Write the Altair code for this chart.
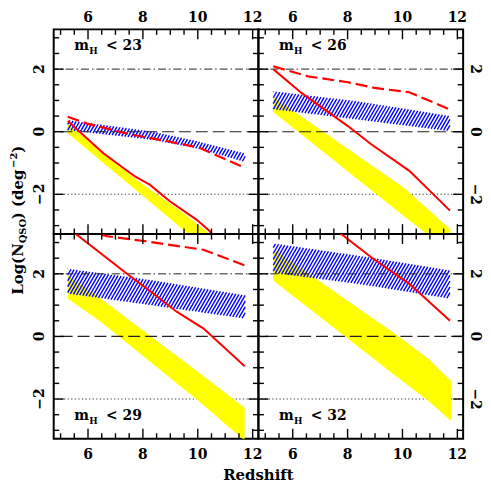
import math
import numpy as np
import pandas as pd
import altair as alt

# ---------------- data ----------------
PANELS = ["23", "26", "29", "32"]

yellow_x = {
    "23": [5.26, 7.71, 9.46, 10.37],
    "26": [5.29, 6.08, 10.07, 11.75],
    "29": [5.26, 6.45, 10.0, 11.71],
    "32": [5.29, 7.36, 9.78, 10.98, 11.77],
}
yellow_top = {
    "23": [0.26, -1.50, -2.59, -3.22],
    "26": [1.11, 0.63, -1.80, -3.12],
    "29": [1.95, 1.22, -1.13, -2.28],
    "32": [2.79, 1.53, 0.05, -0.74, -1.43],
}
yellow_bottom = {
    "23": [-0.05, -1.84, -3.12, -3.78],
    "26": [0.63, 0.08, -2.71, -3.85],
    "29": [1.21, 0.48, -2.04, -3.33],
    "32": [1.79, 0.37, -1.28, -2.09, -2.70],
}
blue_x = {
    "23": [5.26, 8.37, 10.06, 11.73],
    "26": [5.29, 8.37, 11.73],
    "29": [5.26, 8.37, 11.73],
    "32": [5.29, 8.37, 11.73],
}
blue_top = {
    "23": [0.37, 0.0, -0.32, -0.70],
    "26": [1.29, 0.97, 0.50],
    "29": [2.16, 1.79, 1.31],
    "32": [2.97, 2.58, 2.11],
}
blue_bottom = {
    "23": [0.05, -0.26, -0.55, -0.97],
    "26": [0.72, 0.39, 0.02],
    "29": [1.37, 0.99, 0.57],
    "32": [2.03, 1.68, 1.21],
}
solid_x = {
    "23": [5.26, 6.56, 7.71, 8.25, 8.98, 9.94, 10.43, 10.6],
    "26": [5.29, 6.32, 8.01, 8.86, 10.25, 11.73],
    "29": [5.3, 7.42, 8.26, 9.23, 10.2, 11.71],
    "32": [5.3, 7.8, 8.86, 10.25, 11.73],
}
solid_y = {
    "23": [0.34, -0.69, -1.43, -1.69, -2.22, -2.80, -3.17, -3.4],
    "26": [2.0, 1.24, 0.18, -0.40, -1.25, -2.52],
    "29": [3.45, 2.0, 1.45, 0.79, 0.26, -0.95],
    "32": [4.95, 3.25, 2.53, 1.68, 0.50],
}
dashed_x = {
    "23": [5.26, 5.96, 7.53, 8.98, 10.06, 11.73],
    "26": [5.29, 6.56, 8.01, 8.98, 10.25, 11.73],
    "29": [5.3, 6.7, 8.1, 10.2, 11.72],
}
dashed_y = {
    "23": [0.48, 0.26, -0.08, -0.32, -0.51, -1.16],
    "26": [2.09, 1.77, 1.58, 1.40, 1.26, 0.71],
    "29": [3.55, 3.2, 3.04, 2.77, 2.27],
}
ref_dashdot = [2]
ref_dashed = [0]
ref_dotted = [-2]

x_major_ticks = [6, 8, 10, 12]
x_minor_ticks = [5.0, 5.5, 6.5, 7.0, 7.5, 8.5, 9.0, 9.5, 10.5, 11.0, 11.5]
y_major_ticks = [-2, 0, 2]
y_minor_ticks = [-3.0, -2.5, -1.5, -1.0, -0.5, 0.5, 1.0, 1.5, 2.5, 3.0]

X_TITLE = "Redshift"

# ---------------- layout ----------------
XMIN, XMAX = 4.75, 12.21
YMIN, YMAX = -3.27, 3.27
W = 206
H = 206
FONT = "DejaVu Serif"
MAJ, MIN = 10, 5.5

xs = alt.Scale(domain=[XMIN, XMAX], nice=False, zero=False)
ys = alt.Scale(domain=[YMIN, YMAX], nice=False, zero=False)


def band_hatch(bx, top, bot, spacing_px=3.4, angle_deg=60):
    sx = W / (XMAX - XMIN)
    sy = H / (YMAX - YMIN)
    k = math.tan(math.radians(angle_deg)) * sx / sy
    xg = np.linspace(bx[0], bx[-1], 800)
    yt = np.interp(xg, bx, top)
    yb = np.interp(xg, bx, bot)
    dc = k * spacing_px / sx
    cmin = (yb - k * xg).min() - dc
    cmax = (yt - k * xg).max() + dc
    rows = []
    for c in np.arange(cmin, cmax, dc):
        fb = k * xg + c - yb
        ft = k * xg + c - yt
        xa = float(np.interp(0, fb, xg))
        xb = float(np.interp(0, ft, xg))
        if xb - xa > 1e-4:
            rows.append(dict(x=xa, y=k * xa + c, x2=xb, y2=k * xb + c))
    return pd.DataFrame(rows)


def lab(v):
    return str(int(v)).replace("-", "\u2212")


def tick_layers():
    out = []
    xmaj = pd.DataFrame({"t": x_major_ticks})
    xmin_ = pd.DataFrame({"t": x_minor_ticks})
    ymaj = pd.DataFrame({"t": y_major_ticks})
    ymin_ = pd.DataFrame({"t": y_minor_ticks})
    for df, L in ((xmaj, MAJ), (xmin_, MIN)):
        base = alt.Chart(df).mark_rule(color="black", strokeWidth=1.4)
        out.append(base.encode(x=alt.X("t:Q", scale=xs, axis=None), y=alt.value(0), y2=alt.value(L)))
        out.append(base.encode(x=alt.X("t:Q", scale=xs, axis=None), y=alt.value(H), y2=alt.value(H - L)))
    for df, L in ((ymaj, MAJ), (ymin_, MIN)):
        base = alt.Chart(df).mark_rule(color="black", strokeWidth=1.4)
        out.append(base.encode(y=alt.Y("t:Q", scale=ys, axis=None), x=alt.value(0), x2=alt.value(L)))
        out.append(base.encode(y=alt.Y("t:Q", scale=ys, axis=None), x=alt.value(W), x2=alt.value(W - L)))
    return out


def label_layers(top, left):
    out = []
    xl = pd.DataFrame({"t": x_major_ticks, "s": [lab(v) for v in x_major_ticks]})
    yl = pd.DataFrame({"t": y_major_ticks, "s": [lab(v) for v in y_major_ticks]})
    common = dict(font=FONT, fontSize=14, fontWeight="bold", color="black")
    if top:
        out.append(alt.Chart(xl).mark_text(align="center", baseline="alphabetic", **common).encode(
            x=alt.X("t:Q", scale=xs, axis=None), y=alt.value(-7), text="s:N"))
    else:
        out.append(alt.Chart(xl).mark_text(align="center", baseline="top", **common).encode(
            x=alt.X("t:Q", scale=xs, axis=None), y=alt.value(H + 9), text="s:N"))
    if left:
        out.append(alt.Chart(yl).mark_text(align="center", baseline="alphabetic", angle=270, **common).encode(
            y=alt.Y("t:Q", scale=ys, axis=None), x=alt.value(-10), text="s:N"))
    else:
        out.append(alt.Chart(yl).mark_text(align="center", baseline="alphabetic", angle=90, **common).encode(
            y=alt.Y("t:Q", scale=ys, axis=None), x=alt.value(W + 8), text="s:N"))
    return out


def panel(key, col, row):
    top = row == 0
    left = col == 0
    layers = []

    layers.append(alt.Chart(pd.DataFrame({"y": ref_dotted})).mark_rule(
        color="#333333", strokeWidth=1.1, strokeDash=[1.2, 2.4]).encode(
        y=alt.Y("y:Q", scale=ys, axis=None)))

    ydf = pd.DataFrame({"x": yellow_x[key], "top": yellow_top[key], "bottom": yellow_bottom[key]})
    layers.append(alt.Chart(ydf).mark_area(color="#ffff00", opacity=1, clip=True).encode(
        x=alt.X("x:Q", scale=xs, axis=None),
        y=alt.Y("top:Q", scale=ys, axis=None), y2="bottom:Q"))

    hdf = band_hatch(blue_x[key], blue_top[key], blue_bottom[key])
    layers.append(alt.Chart(hdf).mark_rule(color="#0000ff", strokeWidth=1.4, clip=True).encode(
        x=alt.X("x:Q", scale=xs, axis=None), y=alt.Y("y:Q", scale=ys, axis=None),
        x2="x2:Q", y2="y2:Q"))

    layers.append(alt.Chart(pd.DataFrame({"y": ref_dashdot})).mark_rule(
        color="#222222", strokeWidth=1.0, strokeDash=[8, 3, 1.5, 3]).encode(
        y=alt.Y("y:Q", scale=ys, axis=None)))
    layers.append(alt.Chart(pd.DataFrame({"y": ref_dashed})).mark_rule(
        color="#222222", strokeWidth=1.2, strokeDash=[12, 5]).encode(
        y=alt.Y("y:Q", scale=ys, axis=None)))

    if key in dashed_x:
        ddf = pd.DataFrame({"x": dashed_x[key], "y": dashed_y[key]})
        layers.append(alt.Chart(ddf).mark_line(color="#ff0000", strokeWidth=2.2,
                                               strokeDash=[12, 5], clip=True).encode(
            x=alt.X("x:Q", scale=xs, axis=None), y=alt.Y("y:Q", scale=ys, axis=None)))
    sdf = pd.DataFrame({"x": solid_x[key], "y": solid_y[key]})
    layers.append(alt.Chart(sdf).mark_line(color="#ff0000", strokeWidth=2.0, clip=True).encode(
        x=alt.X("x:Q", scale=xs, axis=None), y=alt.Y("y:Q", scale=ys, axis=None)))

    layers += tick_layers()
    layers += label_layers(top, left)

    # panel label  m_H < NN
    ly = 2.61 if top else -2.67
    ldf = pd.DataFrame({"x": [5.5], "y": [ly], "n": ["<  " + key]})
    lb = alt.Chart(ldf)
    enc = dict(x=alt.X("x:Q", scale=xs, axis=None), y=alt.Y("y:Q", scale=ys, axis=None))
    layers.append(lb.mark_text(text="m", font=FONT, fontSize=14, fontWeight="bold",
                               align="left", baseline="alphabetic", color="black").encode(**enc))
    layers.append(lb.mark_text(text="H", font=FONT, fontSize=9, fontWeight="bold",
                               align="left", baseline="alphabetic", color="black",
                               dx=15, dy=4).encode(**enc))
    layers.append(lb.mark_text(font=FONT, fontSize=14, fontWeight="bold",
                               align="left", baseline="alphabetic", color="black",
                               dx=32).encode(text="n:N", **enc))

    one = pd.DataFrame({"a": [0]})
    if top and left:
        # y-axis title pieces: Log(N_QSO) (deg^-2), reading upward
        bx = -31
        pieces = [("Log(N", 15, bx, 267), ("QSO", 10, bx + 3, 215.3),
                  (") (deg", 15, bx, 191.1), ("\u22122", 10, bx - 6, 139.4),
                  (")", 15, bx, 124.1)]
        for txt, size, px, py in pieces:
            layers.append(alt.Chart(one).mark_text(
                text=txt, font=FONT, fontSize=size, fontWeight="bold", angle=270,
                align="left", baseline="alphabetic", color="black").encode(
                x=alt.value(px), y=alt.value(py)))
        # invisible anchor that fixes the outer bounds of the figure
        layers.append(alt.Chart(one).mark_rule(opacity=0, strokeWidth=0.01).encode(
            x=alt.value(-45), y=alt.value(-19), y2=alt.value(-18)))
    if (not top) and left:
        layers.append(alt.Chart(one).mark_text(
            text=X_TITLE, font=FONT, fontSize=15, fontWeight="bold", align="center",
            baseline="alphabetic", color="black").encode(x=alt.value(W), y=alt.value(H + 41)))

    return alt.layer(*layers).properties(width=W, height=H)


charts = [panel(k, i % 2, i // 2) for i, k in enumerate(PANELS)]
chart = alt.concat(*charts, columns=2, spacing=0, bounds="flush").properties(
    padding={"left": 0, "top": 0, "right": 0, "bottom": 0}
).configure_view(stroke="black", strokeWidth=2)

chart.save("out.html", embed_options={"renderer": "svg", "actions": False})
